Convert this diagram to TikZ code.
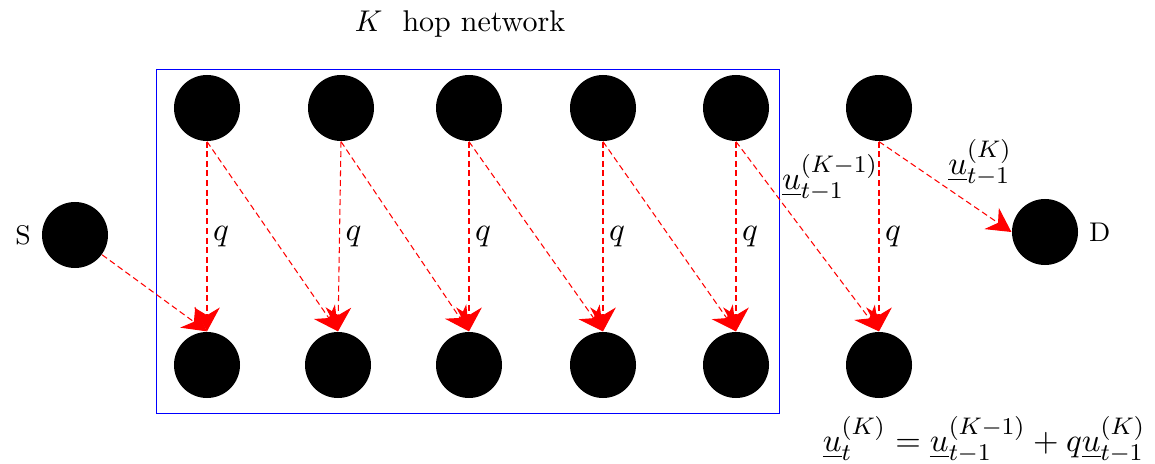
\documentclass[tikz,border=0pt]{standalone}
\usepackage{tikz}
\usetikzlibrary{arrows.meta,positioning,calc}

\begin{document}
\begin{tikzpicture}[
  x=0.3333pt, y=-0.3333pt,
  dot/.style={circle, fill=black, minimum size=22pt, inner sep=0pt},
  arr/.style={-{Stealth[length=2.8mm,width=3mm,inset=0.9mm]}, color=red, line width=0.35pt, dash pattern=on 2pt off 1.2pt},
  lbl/.style={font=\fontsize{11}{13}\selectfont, text=black}
]
\useasboundingbox (0,0) rectangle (1155,464);
% relay nodes
\foreach \i/\x in {1/207,2/341,3/469,4/603,5/736,6/879}{\node[dot] (t\i) at (\x,108) {};}
\foreach \i/\x in {1/207,2/338,3/469,4/603,5/736,6/879}{\node[dot] (b\i) at (\x,365) {};}
\node[dot] (S) at (75,235) {};
\node[dot] (D) at (1045,232) {};
\node[left=0pt of S, font=\small] (Slbl) {S};
\node[right=0pt of D, font=\small] (Dlbl) {D};
\draw[blue, line width=0.3pt] (156,69) rectangle (779,413);
\node (title) at (460,24) {$K$~~hop network};
% links
\foreach \i in {1,...,6}{\draw[arr] (t\i.south) -- node[right=-1.5pt,lbl] {$q$} (b\i.north);}
\foreach \a/\b in {1/2,2/3,3/4,4/5,5/6}{\draw[arr] (t\a.south) -- (b\b.north);}
\draw[arr] (S) -- (b1.north);
\draw[arr] (t6.south) -- (D.west);
\node[lbl] (uk1) at (830,178) {$\underline{u}_{t-1}^{(K-1)}$};
\node[lbl] (uk) at (980,163) {$\underline{u}_{t-1}^{(K)}$};
\node[lbl] (eq) at (984,440) {$\underline{u}_{t}^{(K)}=\underline{u}_{t-1}^{(K-1)}+q\underline{u}_{t-1}^{(K)}$};
\end{tikzpicture}
\end{document}
